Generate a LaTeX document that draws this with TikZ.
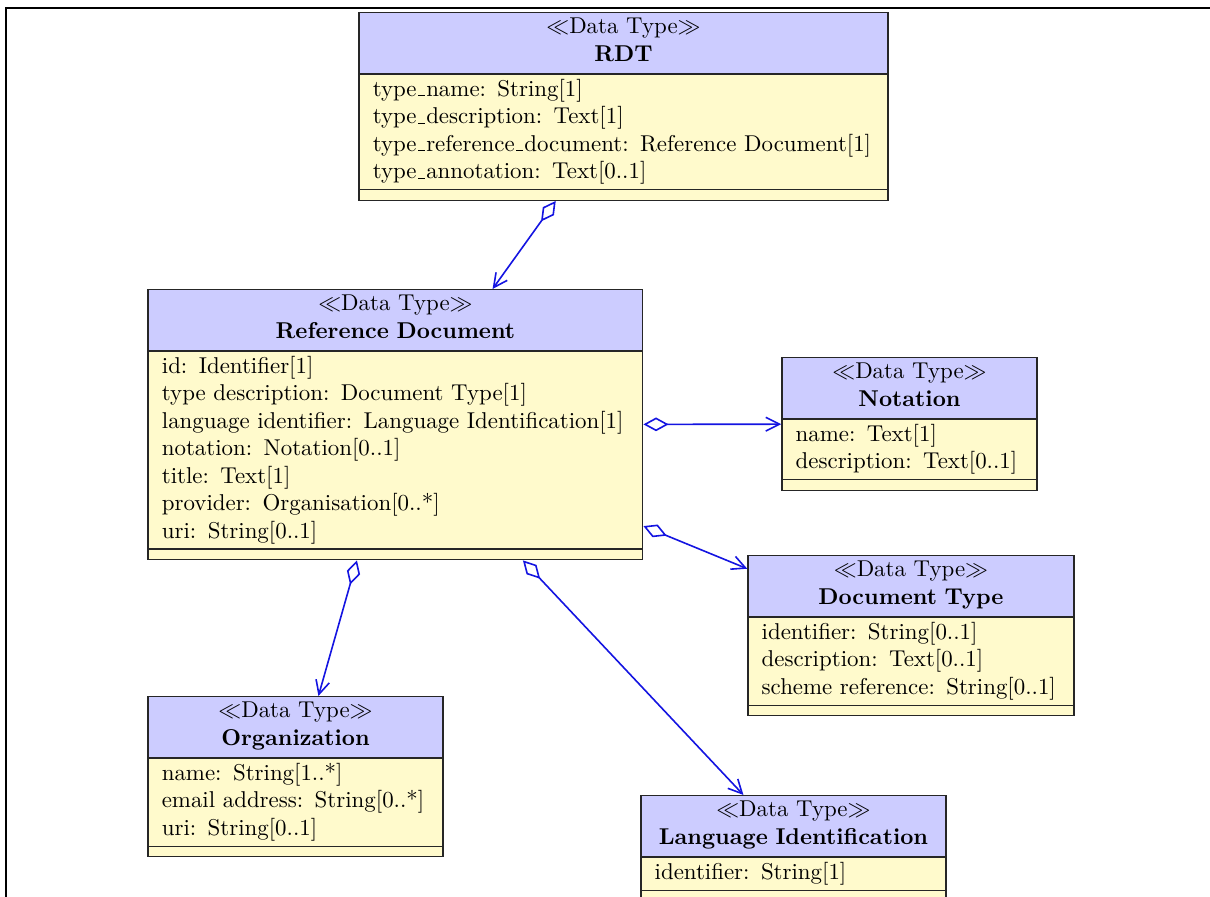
\documentclass[tikz,border=0pt]{standalone}
\usepackage{amsmath}
\usepackage{amssymb}
\usepackage{tikz}
\usetikzlibrary{shapes.multipart}
\usetikzlibrary{arrows.meta}

% narrow underscore, as in the old text fonts
\newcommand{\us}{\leavevmode\kern.06em\vbox{\hrule width.3em}\kern.06em}
\newcommand{\dtype}[1]{\makebox[\hsize]{$\ll$Data Type$\gg$}\\
	\makebox[\hsize]{\textbf{#1}\rule[-3.3pt]{0pt}{0pt}}}

\begin{document}
\begin{tikzpicture}[thick,
	datatype/.style={rectangle split, rectangle split parts=3, draw=black!85, line width=0.6pt,
		rectangle split part fill={hdrblue,bodyyellow,bodyyellow}, inner xsep=6pt, inner ysep=2pt,
		text width=#1, anchor=north},
	aggr/.style={draw=assocblue, line width=0.7pt,
		{Diamond[open,length=11pt,width=6pt]}-{Straight Barb[length=6pt,width=6pt]}}]
	
	\definecolor{hdrblue}{RGB}{204,204,255}
	\definecolor{bodyyellow}{RGB}{255,250,204}
	\definecolor{assocblue}{RGB}{20,20,225}
	
	\useasboundingbox (0,0) rectangle (18.573,-13.768);
	\draw[line width=1.2pt] (18.573,-0.123) -- (0.092,-0.123) -- (0.092,-13.768);
	
	\node[datatype=219pt] (rdt) at (9.570,-0.184) {\dtype{RDT}
		\nodepart{second} type\us name: String[1]\\ type\us description: Text[1]\\
		type\us reference\us document: Reference Document[1]\\ type\us annotation: Text[0..1]
		\nodepart{third}};
	\node[datatype=204pt] (refdoc) at (6.070,-4.436) {\dtype{Reference Document}
		\nodepart{second} id: Identifier[1]\\ type description: Document Type[1]\\
		language identifier: Language Identification[1]\\ notation: Notation[0..1]\\
		title: Text[1]\\ provider: Organisation[0..*]\\ uri: String[0..1]
		\nodepart{third}};
	\node[datatype=99.4pt] (notation) at (13.960,-5.480) {\dtype{Notation}
		\nodepart{second} name: Text[1]\\ description: Text[0..1]
		\nodepart{third}};
	\node[datatype=130.4pt] (doctype) at (13.983,-8.519) {\dtype{Document Type}
		\nodepart{second} identifier: String[0..1]\\ description: Text[0..1]\\ scheme reference: String[0..1]
		\nodepart{third}};
	\node[datatype=116.8pt] (org) at (4.536,-10.683) {\dtype{Organization}
		\nodepart{second} name: String[1..*]\\ email address: String[0..*]\\ uri: String[0..1]
		\nodepart{third}};
	\node[datatype=121.2pt] (langid) at (12.179,-12.202) {\dtype{Language Identification}
		\nodepart{second} identifier: String[1]
		\nodepart{third}};
	
	\path[aggr]
	(rdt) edge (refdoc)
	(refdoc) edge (notation)
	(refdoc) edge (doctype)
	(refdoc) edge (org)
	(refdoc) edge (langid);
\end{tikzpicture}
\end{document}
